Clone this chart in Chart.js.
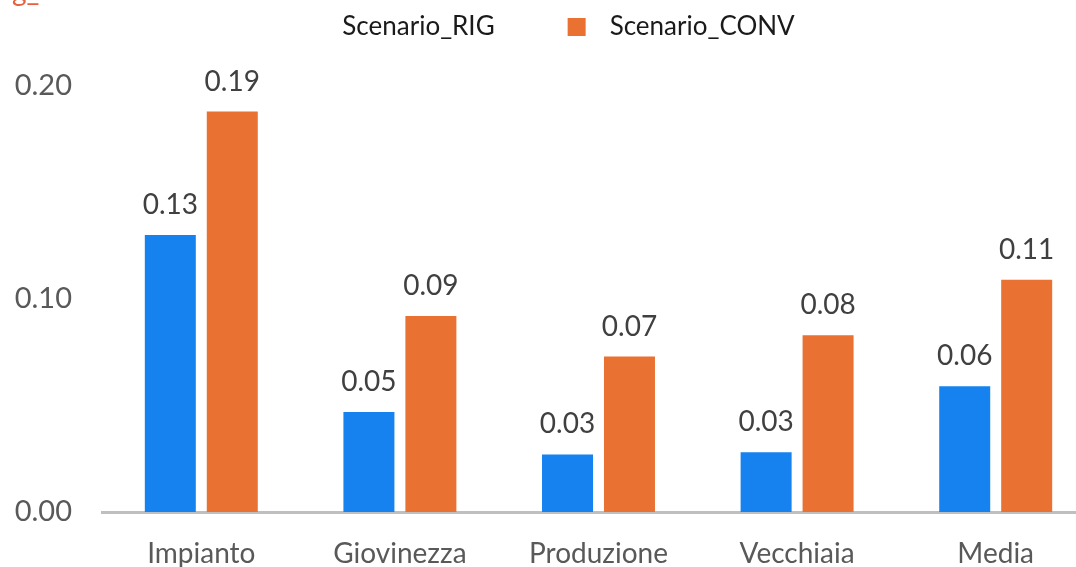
<!DOCTYPE html>
<html>
<head>
<meta charset="utf-8">
<script src="https://cdn.jsdelivr.net/npm/chart.js@4"></script>
<style>
  html, body { margin: 0; padding: 0; background: #fff; overflow: hidden; }
  #wrap { position: relative; width: 1095px; height: 567px; }
  #titleCut { position: absolute; left: 12px; top: -27px; font: 28px Lato, sans-serif; color: #e8603c; }
</style>
</head>
<body>
<div id="wrap">
  <div id="titleCut">g_</div>
  <canvas id="chart"></canvas>
</div>
<script>
// Data
const categories = ['Impianto', 'Giovinezza', 'Produzione', 'Vecchiaia', 'Media'];
const scenarioRig = [0.130, 0.047, 0.027, 0.028, 0.059];
const scenarioConv = [0.188, 0.092, 0.073, 0.083, 0.109];
const yTicks = [0, 0.1, 0.2];

const BLUE = '#1582f0';
const ORANGE = '#e97132';

// Legend drawn on top, centered (first swatch is not visible in the original)
const topLegend = {
  id: 'topLegend',
  afterDraw(chart) {
    const ctx = chart.ctx;
    const box = 18, gapText = 24, gapItem = 73, y = 27;
    ctx.save();
    ctx.font = '26px Lato';
    ctx.textBaseline = 'middle';
    const items = chart.data.datasets.map(ds => ({
      text: ds.label,
      color: ds.legendColor,
      w: box + gapText + ctx.measureText(ds.label).width
    }));
    const total = items.reduce((s, it) => s + it.w, 0) + gapItem * (items.length - 1);
    let x = chart.width / 2 - total / 2;
    items.forEach(it => {
      if (it.color) {
        ctx.fillStyle = it.color;
        ctx.fillRect(x, y - box / 2, box, box);
      }
      ctx.fillStyle = '#1a1a1a';
      ctx.fillText(it.text, x + box + gapText, y);
      x += it.w + gapItem;
    });
    ctx.restore();
  }
};

// Value labels above the bars
const valueLabels = {
  id: 'valueLabels',
  afterDatasetsDraw(chart) {
    const ctx = chart.ctx;
    ctx.save();
    ctx.font = '28px Lato';
    ctx.fillStyle = '#404040';
    ctx.textAlign = 'center';
    ctx.textBaseline = 'alphabetic';
    chart.data.datasets.forEach((ds, i) => {
      chart.getDatasetMeta(i).data.forEach((bar, j) => {
        ctx.fillText(ds.data[j].toFixed(2), bar.x, bar.y - 21);
      });
    });
    ctx.restore();
  }
};

new Chart(document.getElementById('chart'), {
  type: 'bar',
  data: {
    labels: categories,
    datasets: [
      { label: 'Scenario_RIG', data: scenarioRig, backgroundColor: BLUE, legendColor: null },
      { label: 'Scenario_CONV', data: scenarioConv, backgroundColor: ORANGE, legendColor: ORANGE }
    ]
  },
  options: {
    responsive: true,
    maintainAspectRatio: false,
    animation: false,
    datasets: {
      bar: { categoryPercentage: 0.624, barPercentage: 0.823 }
    },
    layout: { padding: { top: 86, left: 0, right: 0, bottom: 0 } },
    plugins: {
      legend: { display: false },
      tooltip: { enabled: false }
    },
    scales: {
      x: {
        grid: { display: false, drawTicks: false },
        border: { color: '#bfbfbf', width: 3 },
        afterFit: scale => { scale.height = 55; },
        ticks: {
          font: { family: 'Lato', size: 28 },
          color: '#595959',
          padding: 25,
          maxRotation: 0
        }
      },
      y: {
        min: 0,
        max: 0.2,
        grid: { display: false, drawTicks: false },
        border: { display: false },
        afterBuildTicks: scale => { scale.ticks = yTicks.map(v => ({ value: v })); },
        afterFit: scale => { scale.width = 102; },
        ticks: {
          font: { family: 'Lato', size: 29 },
          color: '#595959',
          padding: 30,
          callback: v => v.toFixed(2)
        }
      }
    }
  },
  plugins: [topLegend, valueLabels]
});
</script>
</body>
</html>
